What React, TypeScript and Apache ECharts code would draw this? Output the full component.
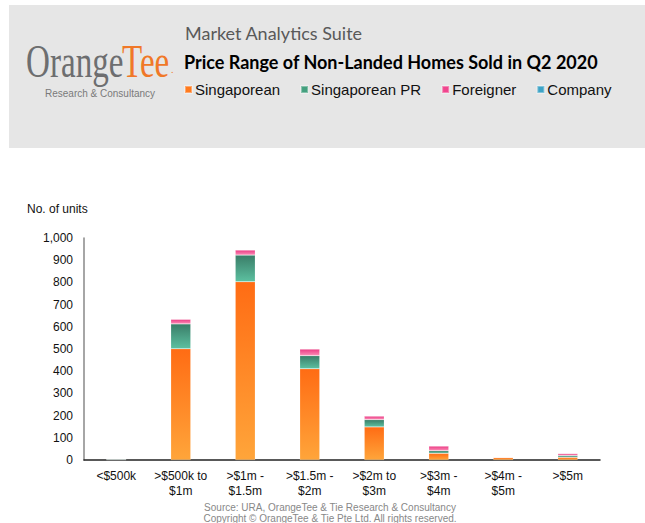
import React, { useEffect, useRef } from "react";
import * as echarts from "echarts";

const categories = ["<$500k", ">$500k to\n$1m", ">$1m -\n$1.5m", ">$1.5m -\n$2m", ">$2m to\n$3m", ">$3m -\n$4m", ">$4m -\n$5m", ">$5m"];
const singaporean = [1, 501, 803, 411, 149, 30, 11, 12];
const singaporeanPR = [3, 112, 120, 59, 33, 12, 0, 8];
const foreigner = [0, 21, 23, 30, 16, 21, 2, 9];
const company = [0, 0, 0, 0, 0, 0, 0, 0];
const yTicks = { min: 0, max: 1000, interval: 100 };

const grad = (top: string, bottom: string) =>
  new echarts.graphic.LinearGradient(0, 0, 0, 1, [
    { offset: 0, color: top },
    { offset: 1, color: bottom },
  ]);

export default function App() {
  const ref = useRef<HTMLDivElement>(null);
  useEffect(() => {
    document.body.style.margin = "0";
    const chart = echarts.init(ref.current!, undefined, { renderer: "svg" });
    const font = "'Liberation Sans', Arial, sans-serif";
    const serif = "'Liberation Serif', serif";
    const mk = (name: string, data: number[], top: string, bottom: string) => ({
      name,
      type: "bar",
      stack: "total",
      barWidth: 20,
      data,
      itemStyle: { color: grad(top, bottom), borderColor: "rgba(255,255,255,0.35)", borderWidth: 0.5 },
    });
    chart.setOption({
      animation: false,
      textStyle: { fontFamily: font },
      grid: { left: 84, right: 45, top: 238, bottom: 63 },
      legend: {
        left: 179,
        top: 77,
        icon: "rect",
        itemWidth: 7,
        itemHeight: 7,
        itemGap: 20,
        selectedMode: false,
        textStyle: { fontSize: 15, color: "#111", fontFamily: font, padding: [0, 0, 0, -2] },
        data: [
          { name: "Singaporean", itemStyle: { color: "#FF7A1E" } },
          { name: "Singaporean PR", itemStyle: { color: "#45A07F" } },
          { name: "Foreigner", itemStyle: { color: "#F0468E" } },
          { name: "Company", itemStyle: { color: "#3DA3C6" } },
        ],
      },
      xAxis: {
        type: "category",
        data: categories,
        axisLine: { lineStyle: { color: "#222", width: 1.5 } },
        axisTick: { show: false },
        axisLabel: { fontSize: 12, color: "#111", lineHeight: 15, margin: 8, interval: 0 },
      },
      yAxis: {
        type: "value",
        min: yTicks.min,
        max: yTicks.max,
        interval: yTicks.interval,
        axisLine: { show: true, lineStyle: { color: "#888", width: 1.5 } },
        axisTick: { show: false },
        splitLine: { show: false },
        axisLabel: {
          fontSize: 12,
          color: "#111",
          margin: 11,
          formatter: (v: number) => v.toLocaleString("en-US"),
        },
      },
      graphic: [
        { type: "rect", shape: { x: 9, y: 5, width: 636, height: 143 }, style: { fill: "#E6E6E6" }, z: -10 },
        {
          type: "group",
          x: 26,
          y: 84,
          children: [
            { type: "text", x: 0, y: 0, scaleX: 0.72, style: { text: "Orange", fontFamily: serif, fontSize: 46, fill: "#6D6E70", textVerticalAlign: "bottom" } },
            { type: "text", x: 96, y: 0, scaleX: 0.72, style: { text: "Tee", fontFamily: serif, fontSize: 46, fill: "#F07828", textVerticalAlign: "bottom" } },
            { type: "text", x: 145, y: -10, style: { text: ".", fontFamily: serif, fontSize: 10, fill: "#F07828", textVerticalAlign: "bottom" } },
          ],
        },
        { type: "text", left: 45, top: 88, style: { text: "Research & Consultancy", fontFamily: font, fontSize: 10, fill: "#7A7A7A" } },
        { type: "text", left: 185, top: 24, style: { text: "Market Analytics Suite", fontFamily: "Lato, sans-serif", fontSize: 18, fill: "#595959" } },
        { type: "text", left: 184, top: 53, style: { text: "Price Range of Non-Landed Homes Sold in Q2 2020", fontFamily: "Lato, sans-serif", fontWeight: "bold", fontSize: 18, fill: "#000" } },
        { type: "text", left: 27, top: 203, style: { text: "No. of units", fontFamily: font, fontSize: 12, fill: "#111" } },
        { type: "text", x: 330, y: 507, style: { text: "Source: URA, OrangeTee & Tie Research & Consultancy", fontFamily: font, fontSize: 10, fill: "#888", align: "center", verticalAlign: "middle" } },
        { type: "text", x: 330, y: 518, style: { text: "Copyright © OrangeTee & Tie Pte Ltd. All rights reserved.", fontFamily: font, fontSize: 10, fill: "#888", align: "center", verticalAlign: "middle" } },
      ],
      series: [
        mk("Singaporean", singaporean, "#FF6C14", "#FFA53A"),
        mk("Singaporean PR", singaporeanPR, "#3A7D68", "#5CC0A0"),
        mk("Foreigner", foreigner, "#EC3A84", "#F98AB4"),
        mk("Company", company, "#2F8FB8", "#5CC0E0"),
      ],
    });
    return () => chart.dispose();
  }, []);
  return <div ref={ref} style={{ width: 645, height: 523, position: "absolute", left: 0, top: 0, background: "#fff" }} />;
}
